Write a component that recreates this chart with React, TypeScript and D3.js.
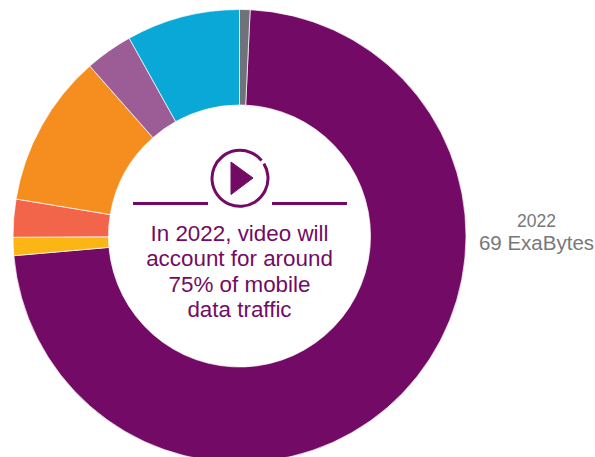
import React from "react";
import * as d3 from "d3";

const segmentNames = ["Video", "Audio", "Web browsing", "Social networking", "Software download and update", "File sharing", "Other"];
const segmentShares = [72.9, 1.3, 2.7, 10.9, 3.4, 8.1, 0.75];
const segmentColors = ["#730b66", "#fbb616", "#f3654a", "#f68d1f", "#9c5c96", "#0aa8d6", "#6f7278"];
const centerLines = ["In 2022, video will", "account for around", "75% of mobile", "data traffic"];
const yearLabel = "2022";
const totalLabel = "69 ExaBytes";

const W = 595, H = 457;
const cx = 239.5, cy = 236, outerR = 226.5, innerR = 131;
const startDeg = 2.7;
const font = "'Liberation Sans', Arial, sans-serif";
const PURPLE = "#730b66";

export default function App() {
  const pie = d3.pie<number>().sort(null)
    .startAngle((startDeg * Math.PI) / 180)
    .endAngle(((startDeg + 360) * Math.PI) / 180);
  const arc = d3.arc<d3.PieArcDatum<number>>().innerRadius(innerR).outerRadius(outerR);
  const arcs = pie(segmentShares);
  const ring = d3.arc()({ innerRadius: 28, outerRadius: 28, startAngle: 1.02, endAngle: 0.88 + 2 * Math.PI }) as string;
  return (
    <svg width={W} height={H} viewBox={`0 0 ${W} ${H}`} style={{ position: "absolute", left: 0, top: 0, background: "#fff" }}>
      <g transform={`translate(${cx},${cy})`}>
        {arcs.map((a, i) => (
          <path key={segmentNames[i]} d={arc(a) as string} fill={segmentColors[i]} stroke="#fff" strokeOpacity={0.7} strokeWidth={1} />
        ))}
      </g>
      <g fill="none" stroke={PURPLE} strokeWidth={3}>
        <path d={ring} transform="translate(240,178.3)" strokeLinecap="round" />
        <line x1={133} x2={208} y1={203.5} y2={203.5} />
        <line x1={272} x2={347} y1={203.5} y2={203.5} />
      </g>
      <path d="M231,162 L253,178 L231,194.5 Z" fill={PURPLE} strokeLinejoin="round" stroke={PURPLE} strokeWidth={1} />
      <g fontFamily={font} fontSize={22.4} fill={PURPLE} textAnchor="middle">
        {centerLines.map((t, i) => (
          <text key={t} x={239.5} y={241 + i * 25.3}>{t}</text>
        ))}
      </g>
      <g fontFamily={font} fill="#77787b" textAnchor="middle">
        <text x={536.5} y={226.5} fontSize={17.5}>{yearLabel}</text>
        <text x={536.5} y={249.5} fontSize={20.5}>{totalLabel}</text>
      </g>
    </svg>
  );
}
